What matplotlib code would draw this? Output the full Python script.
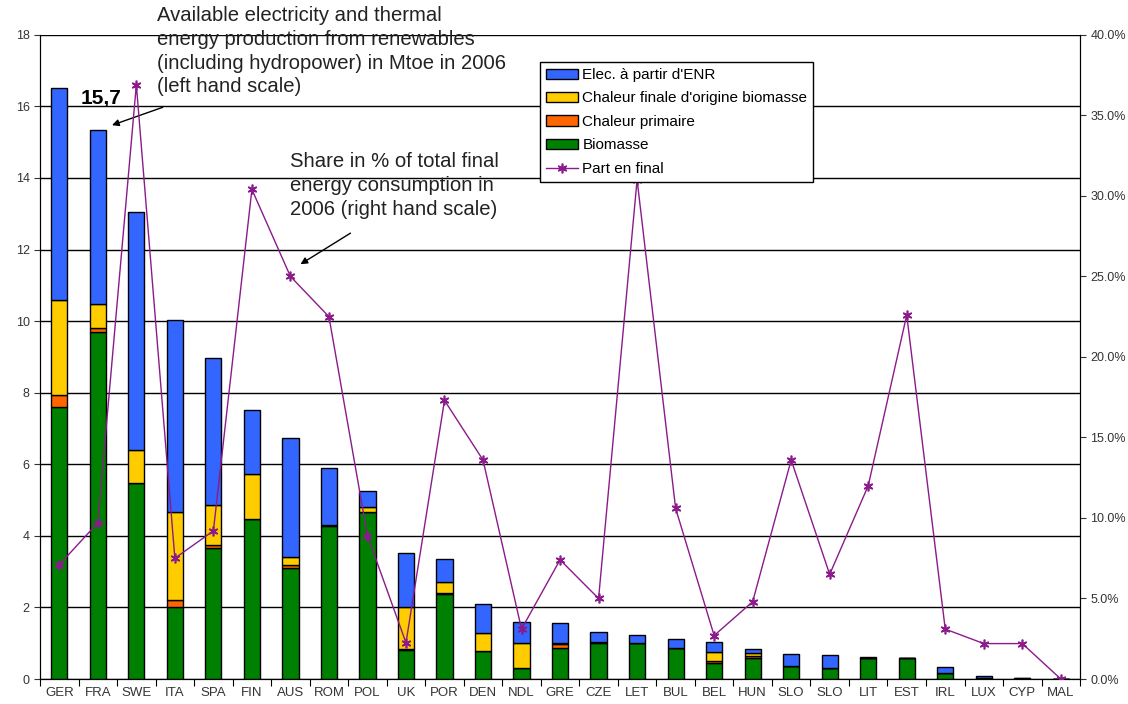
import numpy as np
import matplotlib.pyplot as plt

plt.rcParams["font.family"] = ["Liberation Sans", "DejaVu Sans"]

countries = ["GER", "FRA", "SWE", "ITA", "SPA", "FIN", "AUS", "ROM", "POL", "UK",
             "POR", "DEN", "NDL", "GRE", "CZE", "LET", "BUL", "BEL", "HUN", "SLO",
             "SLO", "LIT", "EST", "IRL", "LUX", "CYP", "MAL"]

# Mtoe, 2006
biomasse = [7.6, 9.7, 5.49, 2.0, 3.65, 4.47, 3.09, 4.28, 4.68, 0.8,
            2.37, 0.78, 0.3, 0.87, 1.0, 1.0, 0.88, 0.46, 0.58, 0.37,
            0.3, 0.58, 0.58, 0.18, 0.02, 0.01, 0.0]
chaleur_prim = [0.33, 0.12, 0.0, 0.2, 0.1, 0.0, 0.1, 0.03, 0.0, 0.03,
                0.03, 0.0, 0.0, 0.1, 0.03, 0.0, 0.0, 0.05, 0.07, 0.0,
                0.0, 0.0, 0.0, 0.0, 0.0, 0.0, 0.0]
chaleur_fin = [2.65, 0.65, 0.9, 2.47, 1.12, 1.26, 0.23, 0.0, 0.13, 1.18,
               0.3, 0.5, 0.7, 0.04, 0.0, 0.0, 0.0, 0.24, 0.08, 0.0,
               0.0, 0.0, 0.0, 0.0, 0.0, 0.03, 0.0]
elec = [5.93, 4.87, 6.66, 5.35, 4.11, 1.79, 3.32, 1.6, 0.43, 1.51,
        0.65, 0.81, 0.6, 0.55, 0.28, 0.23, 0.24, 0.28, 0.1, 0.33,
        0.37, 0.04, 0.0, 0.16, 0.07, 0.0, 0.0]
part_final = [7.1, 9.7, 36.9, 7.5, 9.2, 30.4, 25.0, 22.5, 8.9, 2.25,
              17.3, 13.6, 3.1, 7.4, 5.0, 31.0, 10.6, 2.7, 4.8, 13.6,
              6.5, 12.0, 22.6, 3.1, 2.2, 2.2, 0.0]

x = np.arange(len(countries))
w = 0.42

fig = plt.figure(figsize=(11.28, 7.04), dpi=100)
ax = fig.add_axes([0.0355, 0.0355, 0.922, 0.915])

bottom = np.zeros(len(x))
series = [
    (biomasse, "#008000", "Biomasse"),
    (chaleur_prim, "#FF6600", "Chaleur primaire"),
    (chaleur_fin, "#FFCC00", "Chaleur finale d'origine biomasse"),
    (elec, "#3366FF", "Elec. à partir d'ENR"),
]
handles = {}
for vals, col, lab in series:
    vals = np.array(vals)
    b = ax.bar(x, vals, w, bottom=bottom, color=col, edgecolor="black",
               linewidth=1, label=lab, zorder=3)
    handles[lab] = b
    bottom = bottom + vals

ax.set_ylim(0, 18)
ax.set_xlim(-0.5, len(x) - 0.5)
ax.set_yticks(np.arange(0, 19, 2))
ax.yaxis.grid(True, color="black", linewidth=1)
ax.set_axisbelow(True)
ax.spines["top"].set_visible(False)
ax.tick_params(axis="y", labelsize=9, colors="#333333", length=4)

ax.set_xticks(np.arange(-0.5, len(x) - 0.4, 1))
ax.set_xticklabels([])
ax.set_xticks(x, minor=True)
ax.set_xticklabels(countries, minor=True, fontsize=9.5, color="#333333")
ax.tick_params(axis="x", which="major", length=5)
ax.tick_params(axis="x", which="minor", length=0, pad=6)

ax2 = ax.twinx()
ax2.set_ylim(0, 40)
ax2.set_yticks(np.arange(0, 41, 5))
ax2.set_yticklabels([f"{v:.1f}%" for v in np.arange(0, 41, 5)])
ax2.tick_params(axis="y", labelsize=9, colors="#333333", length=4)
ax2.spines["top"].set_visible(False)
line, = ax2.plot(x, part_final, color="#8B1A8B", linewidth=1,
                 marker=(6, 2, 0), markersize=7, markeredgewidth=1.2,
                 label="Part en final", zorder=4)

leg = ax2.legend(
    [handles["Elec. à partir d'ENR"], handles["Chaleur finale d'origine biomasse"],
     handles["Chaleur primaire"], handles["Biomasse"], line],
    ["Elec. à partir d'ENR", "Chaleur finale d'origine biomasse",
     "Chaleur primaire", "Biomasse", "Part en final"],
    loc="upper left", bbox_to_anchor=(0.481, 0.958), fontsize=11,
    frameon=True, fancybox=False, edgecolor="black", framealpha=1,
    handlelength=2.1, handleheight=0.65, labelspacing=0.62, borderpad=0.4,
    handletextpad=0.25, borderaxespad=0)
leg.get_frame().set_linewidth(1)

W, H = 1128, 704
fig.text(157 / W, 1 - 6 / H, "Available electricity and thermal\nenergy production from renewables\n"
         "(including hydropower) in Mtoe in 2006\n(left hand scale)",
         fontsize=14.6, va="top", ha="left", color="#222222", linespacing=1.32,
         zorder=6)
ax.text(0.55, 15.95, "15,7", fontsize=15, fontweight="bold", va="bottom",
        ha="left", zorder=6)
ax.annotate("", xy=(1.3, 15.45), xytext=(2.75, 16.0),
            arrowprops=dict(arrowstyle="-|>", color="black", lw=1), zorder=6)
fig.text(290 / W, 1 - 152 / H, "Share in % of total final\nenergy consumption in\n2006 (right hand scale)",
         fontsize=14.6, va="top", ha="left", color="#222222", linespacing=1.32,
         zorder=6)
ax.annotate("", xy=(6.2, 11.55), xytext=(7.62, 12.5),
            arrowprops=dict(arrowstyle="-|>", color="black", lw=1), zorder=6)

fig.savefig("out.png", dpi=100)
